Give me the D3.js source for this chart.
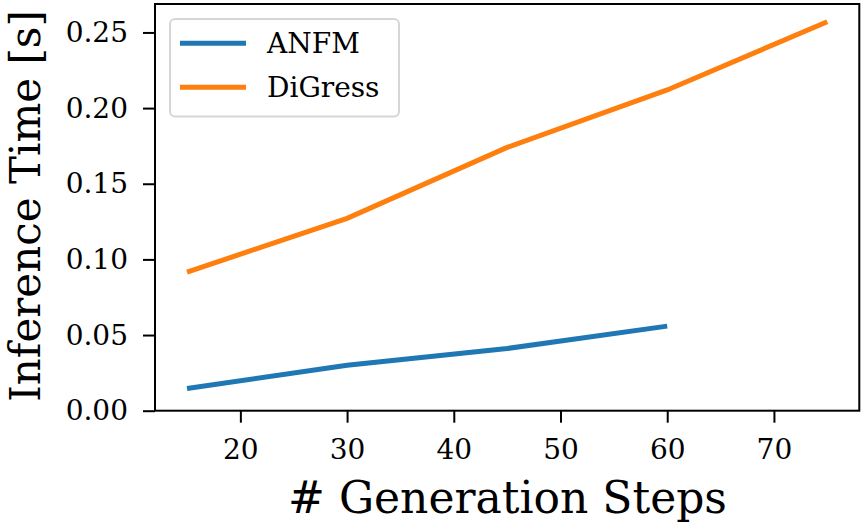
<!DOCTYPE html>
<html><head><meta charset="utf-8">
<script src="https://cdn.jsdelivr.net/npm/d3@7"></script>
<style>body{margin:0;background:#fff}svg{display:block}text{font-family:"DejaVu Serif",serif;fill:#000}</style>
</head><body><svg id="c" width="864" height="529"></svg>
<script>
const steps = [15, 30, 45, 60, 75];
const anfm = [0.0147, 0.0301, 0.0411, 0.0559];
const digress = [0.0916, 0.1271, 0.1740, 0.2120, 0.2571];
const seriesNames = ["ANFM", "DiGress"];
const xTicks = [20, 30, 40, 50, 60, 70];
const yTicks = [0, 0.05, 0.10, 0.15, 0.20, 0.25];
const colors = ["#1f77b4", "#ff7f0e"];

const svg = d3.select("#c");
const L = 155, R = 859.3, T = 4, B = 410.7;
const x = d3.scaleLinear().domain([12, 78]).range([L, R]);
const y = d3.scaleLinear().domain([0, 0.2688]).range([B, T]);

const line = d3.line().x(d => x(d[0])).y(d => y(d[1]));
const data = [anfm.map((v, i) => [steps[i], v]), digress.map((v, i) => [steps[i], v])];
data.forEach((d, i) => {
  svg.append("path").attr("d", line(d)).attr("fill", "none")
    .attr("stroke", colors[i]).attr("stroke-width", 5).attr("stroke-linecap", "butt");
});

const xa = svg.append("g").attr("transform", `translate(0,${B})`)
  .call(d3.axisBottom(x).tickValues(xTicks).tickFormat(d3.format("d")).tickSize(12).tickSizeOuter(0));
const ya = svg.append("g").attr("transform", `translate(${L},0)`)
  .call(d3.axisLeft(y).tickValues(yTicks).tickFormat(d3.format(".2f")).tickSize(12).tickSizeOuter(0));
[xa, ya].forEach(a => {
  a.select(".domain").remove();
  a.selectAll(".tick line").attr("stroke", "#000").attr("stroke-width", 2);
  a.selectAll(".tick text").style("font-family", "DejaVu Serif").style("font-size", "28px");
});
xa.selectAll(".tick text").attr("dy", "0.71em").attr("y", 28);
ya.selectAll(".tick text").attr("x", -27);

svg.append("rect").attr("x", L).attr("y", T).attr("width", R - L).attr("height", B - T)
  .attr("fill", "none").attr("stroke", "#000").attr("stroke-width", 2);

svg.append("text").attr("x", 507.5).attr("y", 513).attr("text-anchor", "middle")
  .style("font-size", "44px").text("# Generation Steps");
svg.append("text").attr("transform", `translate(40,206) rotate(-90)`).attr("text-anchor", "middle")
  .style("font-size", "42px").text("Inference Time [s]");

const lg = svg.append("g");
lg.append("rect").attr("x", 170).attr("y", 19).attr("width", 229).attr("height", 97.5).attr("rx", 5)
  .attr("fill", "#fff").attr("fill-opacity", 0.8).attr("stroke", "#d6d6d6").attr("stroke-width", 2);
seriesNames.forEach((n, i) => {
  const yy = 43.3 + i * 44;
  lg.append("line").attr("x1", 180).attr("x2", 246).attr("y1", yy).attr("y2", yy)
    .attr("stroke", colors[i]).attr("stroke-width", 5);
  lg.append("text").attr("x", 267).attr("y", yy).attr("dy", "0.36em").style("font-size", "28px").text(n);
});
</script></body></html>
